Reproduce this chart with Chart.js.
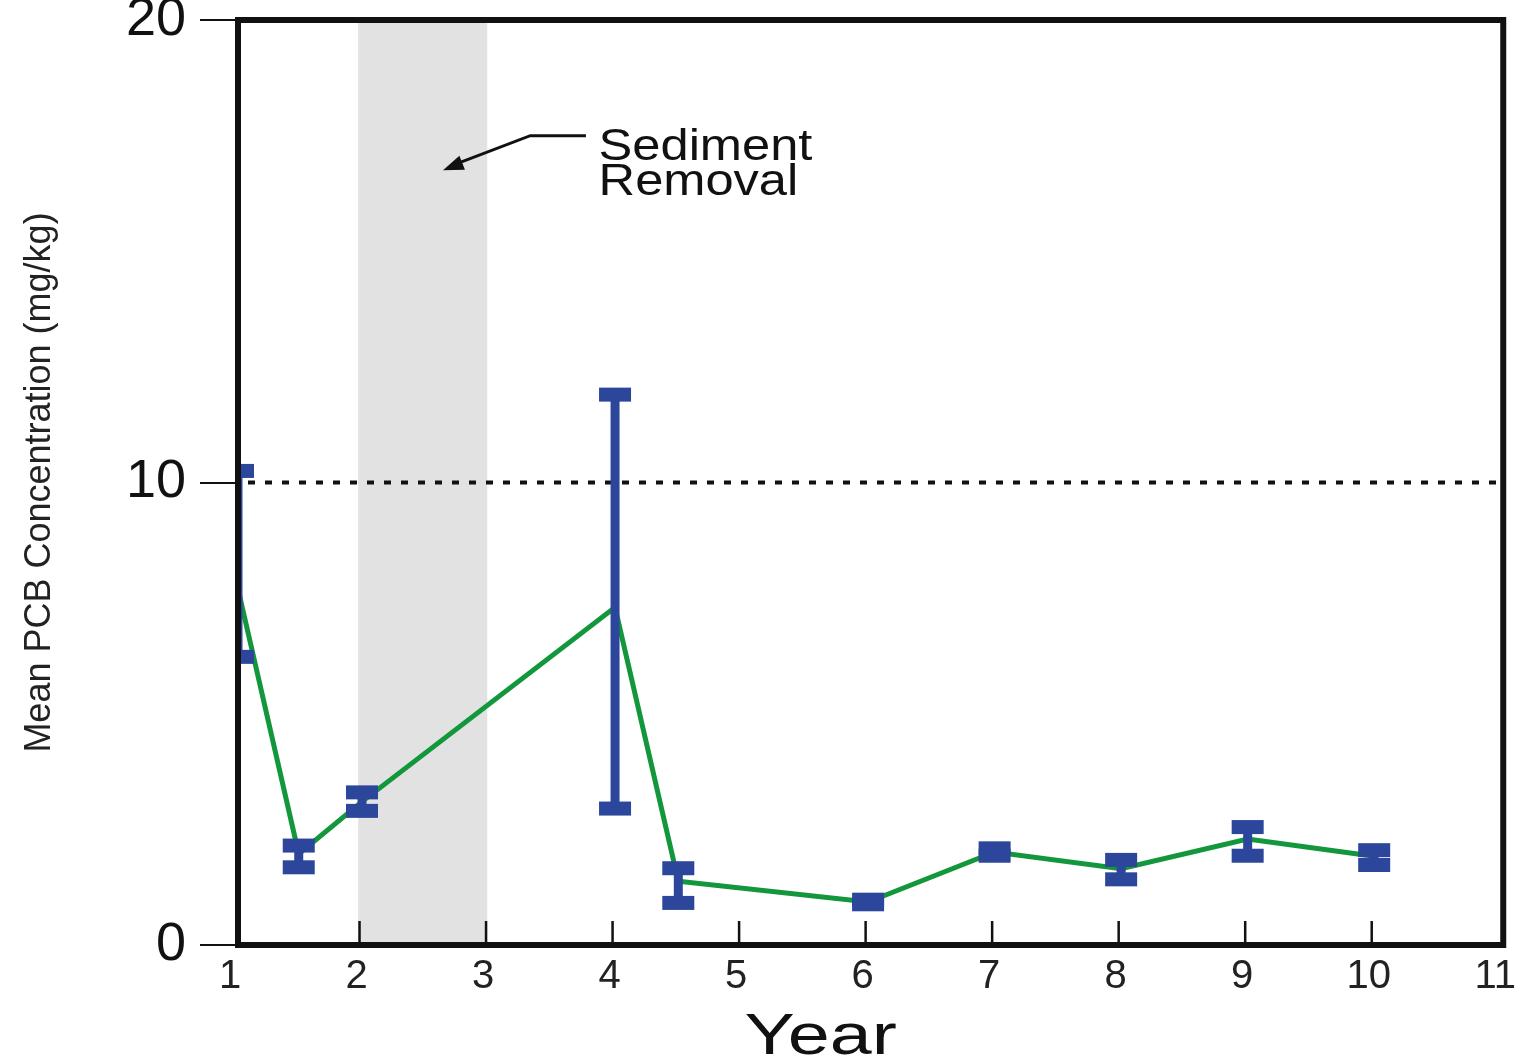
<!DOCTYPE html>
<html lang="en">
  <head>
    <meta charset="UTF-8" />
    <title>Mean PCB Concentration</title>
    <script src="https://cdn.jsdelivr.net/npm/chart.js"></script>
    <style>
      html, body { margin: 0; padding: 0; background: #fff; }
    </style>
  </head>
  <body>
    <canvas id="pcbChart" width="1532" height="1060"></canvas>
    <script>
      // sampling times (years) and mean PCB, with error bar ends (mg/kg)
      var years = [1.0, 1.48, 1.98, 3.98, 4.48, 5.98, 6.98, 7.98, 8.98, 9.98];
      var meanPcb = [7.7, 1.97, 3.1, 7.3, 1.38, 0.93, 2.01, 1.65, 2.29, 1.92];
      var upperPcb = [10.25, 2.15, 3.3, 11.9, 1.66, 0.98, 2.09, 1.84, 2.55, 2.05];
      var lowerPcb = [6.23, 1.68, 2.9, 2.95, 0.91, 0.88, 1.93, 1.42, 1.93, 1.73];

      var yearTicks = [1, 2, 3, 4, 5, 6, 7, 8, 9, 10, 11];
      var concTicks = [0, 10, 20];
      var guideLevel = 10; // dotted reference line
      var removalStart = 1.95; // shaded sediment removal period
      var removalEnd = 2.97;

      var fontName = "'Liberation Sans', Arial, Helvetica, sans-serif";
      var blue = "#2c469b";
      var green = "#13973c";

      var points = years.map(function (yr, i) {
        return { x: yr, y: meanPcb[i] };
      });

      // shaded band + dotted line under the data
      var backdrop = {
        id: "backdrop",
        beforeDatasetsDraw: function (chart) {
          var ctx = chart.ctx, a = chart.chartArea;
          var xs = chart.scales.x, ys = chart.scales.y;
          var x0 = xs.getPixelForValue(removalStart);
          var x1 = xs.getPixelForValue(removalEnd);
          ctx.save();
          ctx.fillStyle = "#e2e2e2";
          ctx.fillRect(x0, a.top, x1 - x0, a.bottom - a.top);

          var gy = ys.getPixelForValue(guideLevel);
          ctx.strokeStyle = "#111";
          ctx.lineWidth = 4;
          ctx.setLineDash([7, 10]);
          ctx.beginPath();
          ctx.moveTo(a.left + 10, gy);
          ctx.lineTo(a.right, gy);
          ctx.stroke();
          ctx.restore();
        },
      };

      // error bars on top of the line, clipped to the plot frame
      var errorBars = {
        id: "errorBars",
        afterDatasetsDraw: function (chart) {
          var ctx = chart.ctx, a = chart.chartArea;
          var xs = chart.scales.x, ys = chart.scales.y;
          ctx.save();
          ctx.beginPath();
          ctx.rect(a.left, a.top, a.right - a.left, a.bottom - a.top);
          ctx.clip();
          ctx.fillStyle = blue;
          for (var i = 0; i < years.length; i++) {
            var px = xs.getPixelForValue(years[i]);
            var pu = ys.getPixelForValue(upperPcb[i]);
            var pl = ys.getPixelForValue(lowerPcb[i]);
            ctx.fillRect(px - 4.5, pu, 9, pl - pu);
            ctx.fillRect(px - 16, pu - 7, 32, 14);
            ctx.fillRect(px - 16, pl - 7, 32, 14);
          }
          ctx.restore();
        },
      };

      // frame, inward x ticks, annotation and x title
      var decorations = {
        id: "decorations",
        afterDraw: function (chart) {
          var ctx = chart.ctx, a = chart.chartArea;
          var xs = chart.scales.x, ys = chart.scales.y;
          ctx.save();

          ctx.strokeStyle = "#111";
          ctx.lineWidth = 2.5;
          yearTicks.slice(1, -1).forEach(function (t) {
            var px = xs.getPixelForValue(t) - 5;
            ctx.beginPath();
            ctx.moveTo(px, a.bottom);
            ctx.lineTo(px, a.bottom - 24);
            ctx.stroke();
          });

          ctx.lineWidth = 6;
          ctx.strokeRect(a.left, a.top, a.right - a.left, a.bottom - a.top);

          // annotation
          var tx = xs.getPixelForValue(3.85);
          ctx.fillStyle = "#111";
          ctx.font = "44px " + fontName;
          ctx.textBaseline = "alphabetic";
          ctx.save();
          ctx.translate(tx, 0);
          ctx.scale(1.15, 1);
          ctx.fillText("Sediment", 0, ys.getPixelForValue(16.97));
          ctx.fillText("Removal", 0, ys.getPixelForValue(16.22));
          ctx.restore();

          var ax0 = xs.getPixelForValue(3.75), ay0 = ys.getPixelForValue(17.5);
          var ax1 = xs.getPixelForValue(3.31);
          var ax2 = xs.getPixelForValue(2.62), ay2 = ys.getPixelForValue(16.75);
          ctx.lineWidth = 3;
          ctx.beginPath();
          ctx.moveTo(ax0, ay0);
          ctx.lineTo(ax1, ay0);
          ctx.lineTo(ax2 + 12, ay2 - 6);
          ctx.stroke();
          var ang = Math.atan2(ay2 - ay0, ax2 - ax1);
          ctx.beginPath();
          ctx.moveTo(ax2, ay2);
          ctx.lineTo(ax2 - 22 * Math.cos(ang - 0.35), ay2 - 22 * Math.sin(ang - 0.35));
          ctx.lineTo(ax2 - 22 * Math.cos(ang + 0.35), ay2 - 22 * Math.sin(ang + 0.35));
          ctx.closePath();
          ctx.fill();

          // x axis title
          ctx.font = "58px " + fontName;
          ctx.textAlign = "center";
          ctx.textBaseline = "alphabetic";
          ctx.save();
          ctx.translate((a.left + a.right) / 2 - 50, chart.height - 6);
          ctx.scale(1.3, 1);
          ctx.fillText("Year", 0, 0);
          ctx.restore();

          ctx.restore();
        },
      };

      var ctx = document.getElementById("pcbChart").getContext("2d");
      var pcbChart = new Chart(ctx, {
        type: "line",
        data: {
          datasets: [
            {
              label: "Mean PCB",
              data: points,
              borderColor: green,
              borderWidth: 5,
              pointRadius: 0,
              tension: 0,
              fill: false,
            },
          ],
        },
        options: {
          responsive: false,
          animation: false,
          devicePixelRatio: 1,
          layout: { padding: { top: 20, right: 27, left: 0, bottom: 0 } },
          plugins: {
            legend: { display: false },
            tooltip: { enabled: false },
          },
          scales: {
            x: {
              type: "linear",
              min: 1,
              max: 11,
              afterFit: function (scale) {
                scale.height = 115;
              },
              afterBuildTicks: function (scale) {
                scale.ticks = yearTicks.map(function (v) {
                  return { value: v };
                });
              },
              border: { display: false },
              grid: { display: false, drawTicks: false },
              ticks: {
                autoSkip: false,
                maxRotation: 0,
                labelOffset: -8,
                padding: 8,
                color: "#222",
                font: { family: fontName, size: 40 },
              },
            },
            y: {
              min: 0,
              max: 20,
              afterFit: function (scale) {
                scale.width = 238;
              },
              afterBuildTicks: function (scale) {
                scale.ticks = concTicks.map(function (v) {
                  return { value: v };
                });
              },
              border: { display: false },
              grid: {
                drawOnChartArea: false,
                drawTicks: true,
                tickLength: 38,
                color: "#111",
                lineWidth: 2,
              },
              ticks: {
                padding: 14,
                color: "#111",
                font: { family: fontName, size: 54, lineHeight: 0.2 },
              },
              title: {
                display: true,
                text: "Mean PCB Concentration (mg/kg)",
                color: "#222",
                padding: { top: 18, bottom: 0 },
                font: { family: fontName, size: 36 },
              },
            },
          },
        },
        plugins: [backdrop, errorBars, decorations],
      });
    </script>
  </body>
</html>
